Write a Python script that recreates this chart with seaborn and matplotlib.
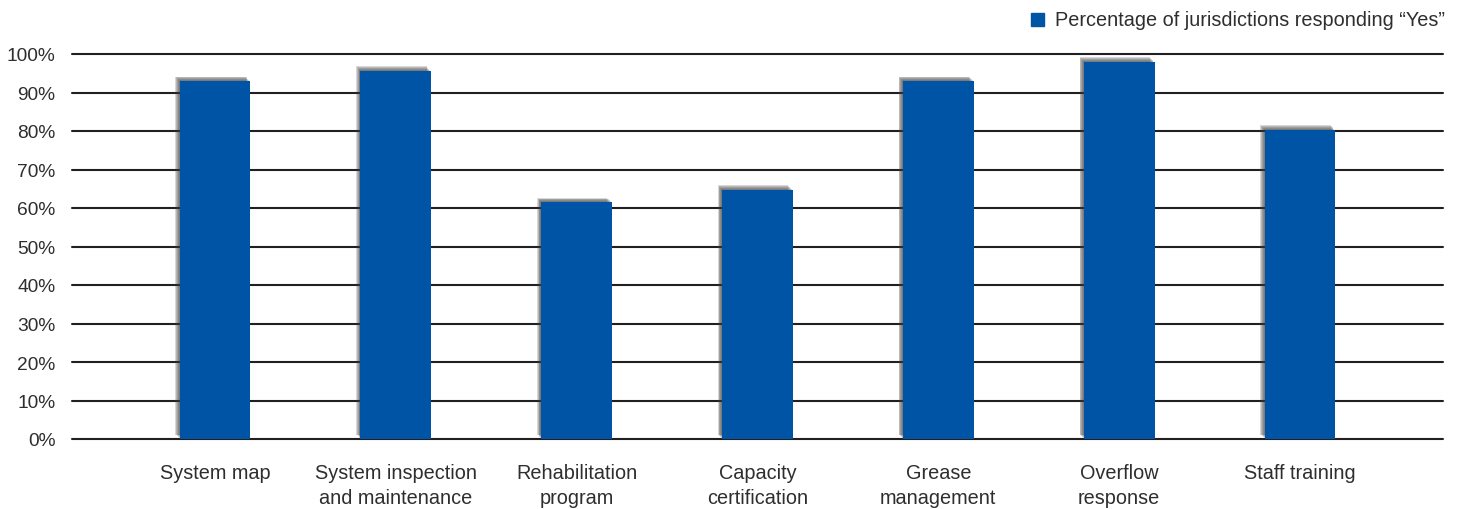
import matplotlib
matplotlib.use("Agg")
import matplotlib.pyplot as plt
import matplotlib.patheffects as pe
import seaborn as sns
import pandas as pd

categories = [
    "System map",
    "System inspection\nand maintenance",
    "Rehabilitation\nprogram",
    "Capacity\ncertification",
    "Grease\nmanagement",
    "Overflow\nresponse",
    "Staff training",
]
pct_yes = [93, 95.6, 61.5, 64.7, 93, 98, 80.3]
y_ticks = [0, 10, 20, 30, 40, 50, 60, 70, 80, 90, 100]
y_tick_labels = [f"{v}%" for v in y_ticks]
series_name = "Percentage of jurisdictions responding \u201cYes\u201d"

df = pd.DataFrame({"category": categories, "value": pct_yes, "series": series_name})

sns.set_theme(style="white")
plt.rcParams["font.family"] = ["Liberation Sans", "DejaVu Sans"]

bar_color = "#0054a6"
text_color = "#2e2e2e"
fs = 14.3

fig = plt.figure(figsize=(14.6, 5.1), dpi=100)
ax = fig.add_axes([72 / 1460, 1 - 440 / 510, (1443 - 72) / 1460, (440 - 55) / 510])

# horizontal reference lines behind the bars
for v in y_ticks:
    ax.axhline(v, color="#231f20", lw=1.5, zorder=1, clip_on=False)

sns.barplot(data=df, x="category", y="value", color=bar_color, width=0.39,
            saturation=1, ax=ax, zorder=3)

# soft drop shadow toward the upper left
shadow = [pe.SimplePatchShadow(offset=(-o, o), shadow_rgbFace="#3a3a3a", alpha=0.2)
          for o in (3.2, 2.6, 2.0, 1.4, 0.8)] + [pe.Normal()]
for p in ax.patches:
    p.set_path_effects(shadow)
    p.set_edgecolor("none")

ax.set_xlim(-0.79, 6.79)
ax.set_ylim(0, 100)
ax.set_yticks(y_ticks)
ax.set_yticklabels(y_tick_labels)
ax.set_xlabel("")
ax.set_ylabel("")
for s in ax.spines.values():
    s.set_visible(False)
ax.tick_params(axis="y", length=0, pad=12, labelsize=13.8, labelcolor=text_color)
ax.tick_params(axis="x", length=0, pad=17, labelsize=fs, labelcolor=text_color)
for lbl in ax.get_xticklabels():
    lbl.set_linespacing(1.42)

# legend entry in the top right corner
fig.patches.append(plt.Rectangle((1031 / 1460, 1 - 27 / 510), 13 / 1460, 13 / 510,
                                 transform=fig.transFigure, color=bar_color))
fig.text(1055 / 1460, 1 - 20 / 510, series_name, fontsize=fs, color=text_color,
         va="center", ha="left")

fig.savefig("out.png", dpi=100)
